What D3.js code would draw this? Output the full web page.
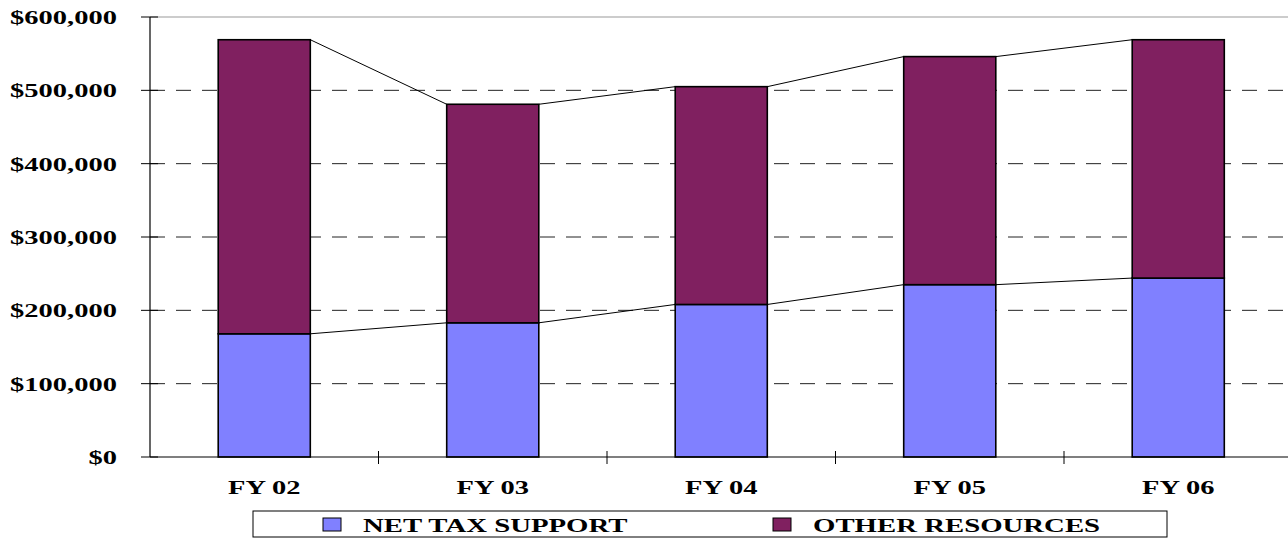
<!DOCTYPE html>
<html>
<head>
<meta charset="utf-8">
<script src="https://cdn.jsdelivr.net/npm/d3@7"></script>
<style>
  html, body { margin: 0; padding: 0; background: #fff; }
  svg text { font-family: "Liberation Serif", "Times New Roman", serif; font-weight: bold; fill: #000; }
</style>
</head>
<body>
<svg id="chart" width="1288" height="540"></svg>
<script>
// Budget by fiscal year, in dollars
const categories = ["FY 02", "FY 03", "FY 04", "FY 05", "FY 06"];
const netTaxSupport = [168000, 183000, 208000, 235000, 244000];
const otherResources = [401000, 298000, 297000, 311000, 325000];
const yTicks = [0, 100000, 200000, 300000, 400000, 500000, 600000];
const seriesNames = ["NET TAX SUPPORT", "OTHER RESOURCES"];
const seriesColors = ["#8080FF", "#802060"];

const svg = d3.select("#chart");
const plotLeft = 150, plotRight = 1292.5, plotTop = 17, plotBottom = 457;

const x = d3.scaleBand().domain(categories).range([plotLeft, plotRight])
  .paddingInner(0.597).paddingOuter(0.2985);
const y = d3.scaleLinear().domain([0, 600000]).range([plotBottom, plotTop]);

const rows = categories.map((c, i) => ({ cat: c, net: netTaxSupport[i], other: otherResources[i] }));
const stacked = d3.stack().keys(["net", "other"])(rows);

// gridlines
svg.append("g").selectAll("line").data(yTicks.filter(t => t > 0 && t < 600000)).join("line")
  .attr("x1", plotLeft).attr("x2", 1288)
  .attr("y1", d => y(d)).attr("y2", d => y(d))
  .attr("stroke", "#222").attr("stroke-width", 1).attr("stroke-dasharray", "15,11");
svg.append("line").attr("x1", plotLeft).attr("x2", 1288)
  .attr("y1", y(600000)).attr("y2", y(600000))
  .attr("stroke", "#999").attr("stroke-width", 1.2);

// stacked bars
stacked.forEach((layer, k) => {
  svg.append("g").selectAll("rect").data(layer).join("rect")
    .attr("x", d => x(d.data.cat))
    .attr("width", x.bandwidth())
    .attr("y", d => y(d[1]))
    .attr("height", d => y(d[0]) - y(d[1]))
    .attr("fill", seriesColors[k])
    .attr("stroke", "#000").attr("stroke-width", 1.6);
});

// series lines joining segment tops between neighbouring bars
stacked.forEach(layer => {
  const segs = d3.pairs(layer);
  svg.append("g").selectAll("line").data(segs).join("line")
    .attr("x1", d => x(d[0].data.cat) + x.bandwidth())
    .attr("y1", d => y(d[0][1]))
    .attr("x2", d => x(d[1].data.cat))
    .attr("y2", d => y(d[1][1]))
    .attr("stroke", "#000").attr("stroke-width", 1);
});

// axes
const fmt = d => "$" + d3.format(",")(d);
svg.append("line").attr("x1", plotLeft).attr("x2", plotLeft).attr("y1", plotTop).attr("y2", plotBottom)
  .attr("stroke", "#000").attr("stroke-width", 1.2);
svg.append("line").attr("x1", plotLeft).attr("x2", 1288).attr("y1", plotBottom).attr("y2", plotBottom)
  .attr("stroke", "#000").attr("stroke-width", 1.2);
svg.append("g").selectAll("line").data(yTicks).join("line")
  .attr("x1", 141).attr("x2", 158).attr("y1", d => y(d)).attr("y2", d => y(d))
  .attr("stroke", "#000").attr("stroke-width", 1);
const bounds = categories.slice(1).map(c => x(c) - x.step() * x.paddingInner() / 2);
svg.append("g").selectAll("line").data(bounds).join("line")
  .attr("x1", d => d).attr("x2", d => d).attr("y1", 451).attr("y2", 464)
  .attr("stroke", "#000").attr("stroke-width", 1);

// y labels
svg.append("g").selectAll("text").data(yTicks).join("text")
  .attr("transform", d => `translate(117,${y(d) + 7}) scale(1.5,1)`)
  .attr("text-anchor", "end").attr("font-size", 19)
  .text(fmt);

// category labels
svg.append("g").selectAll("text").data(categories).join("text")
  .attr("transform", d => `translate(${x(d) + x.bandwidth() / 2},494) scale(1.5,1)`)
  .attr("text-anchor", "middle").attr("font-size", 19)
  .text(d => d);

// legend
const lg = svg.append("g");
lg.append("rect").attr("x", 253).attr("y", 511).attr("width", 914).attr("height", 26)
  .attr("fill", "#fff").attr("stroke", "#000").attr("stroke-width", 1);
const legendX = [323, 773];
seriesNames.forEach((name, i) => {
  lg.append("rect").attr("x", legendX[i]).attr("y", 518).attr("width", 18).attr("height", 13)
    .attr("fill", seriesColors[i]).attr("stroke", "#000").attr("stroke-width", 1);
  lg.append("text")
    .attr("transform", `translate(${legendX[i] + 40},532) scale(1.6,1)`)
    .attr("font-size", 18).text(name);
});
</script>
</body>
</html>
